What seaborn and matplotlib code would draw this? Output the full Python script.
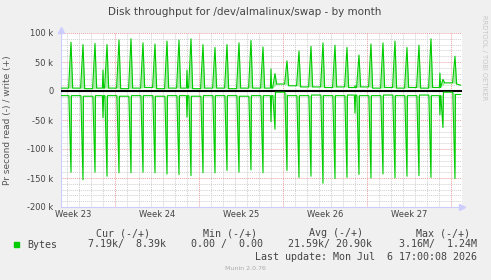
import numpy as np
import matplotlib
matplotlib.use("Agg")
import matplotlib.pyplot as plt
from matplotlib.patches import Rectangle
import seaborn as sns

# --- data (values in k, day 0 = Mon 1 Jun 2026) ---
# daily 08:00 spike peaks, write (+) and read (-)
write_peak = [84, 80, 82, 80, 88, 90, 83, 81, 86, 88, 90, 80, 75, 80, 83, 87, 76,
              30, 52, 69, 77, 83, 79, 75, 62, 81, 83, 86, 75, 79, 90, 20, 60]
read_peak = [-140, -153, -140, -147, -141, -141, -140, -141, -143, -144, -146, -141,
             -141, -137, -140, -136, -141, -66, -137, -149, -147, -159, -151, -149,
             -144, -150, -143, -150, -147, -146, -149, -63, -151]
# level the line settles at after each daily spike
write_base = [5, 4, 5, 5, 4, 5, 6, 4, 5, 5, 4, 5, 5, 4, 5, 5, 5,
              12, 9, 7, 7, 6, 7, 6, 7, 5, 6, 5, 6, 5, 6, 14, 12]
read_base = [-8, -9, -8, -8, -9, -8, -8, -9, -8, -8, -9, -8, -8, -8, -9, -8, -8,
             -2, -8, -8, -7, -8, -8, -7, -8, -8, -7, -8, -8, -7, -8, -2, -6]
# weekly job (Sunday night) secondary spikes
weekly_day = [6.0, 13.0, 20.0, 27.0, 34.08]
weekly_write = [36, 36, 38, 9, 31]
weekly_read = [-46, -45, -53, -38, -41]
# graph edges
start_day, end_day = 2.5, 35.92
write_start, write_end = 5, 10
read_start, read_end = -8, -6

week_labels = ["Week 23", "Week 24", "Week 25", "Week 26", "Week 27"]
week_start = [0, 7, 14, 21, 28, 35]
ytick_vals = [-200, -150, -100, -50, 0, 50, 100]
ytick_labels = ["-200 k", "-150 k", "-100 k", "-50 k", "0", "50 k", "100 k"]

spike_hour = 8 / 24


def build(peaks, bases, weekly_vals, start, end, rise, fall):
    events = [(3 + k + spike_hour, p, b, rise, fall) for k, (p, b) in enumerate(zip(peaks, bases))]
    events += [(d, v, None, 0.05, 0.05) for d, v in zip(weekly_day, weekly_vals)]
    events.sort(key=lambda e: e[0])
    t, y, floor = [start_day], [start], [start]
    cur = start
    for time, peak, base, r, f in events:
        nb = cur if base is None else base
        t += [time - r, time, time + f]
        y += [cur, peak, nb]
        floor += [cur, (cur + nb) / 2, nb]
        cur = nb
    t.append(end_day - 0.1)
    y.append(end)
    floor.append(end)
    return np.array(t), np.array(y) * 1000, np.array(floor) * 1000


tw, yw, fw = build(write_peak, write_base, weekly_write, write_start, write_end, 0.2, 0.14)
tr, yr, fr = build(read_peak, read_base, weekly_read, read_start, read_end, 0.18, 0.04)

W, H = 491, 280
sns.set_style("white")
plt.rcParams["font.family"] = ["DejaVu Sans"]
fig = plt.figure(figsize=(W / 100, H / 100), dpi=100, facecolor="#f0f0f0")
ax = fig.add_axes([61 / W, 1 - 207 / H, (462 - 61) / W, (207 - 33) / H])
ax.set_facecolor("white")

# grid
for v in range(-200, 101, 10):
    if v % 50:
        ax.axhline(v * 1000, color="#cfcfcf", lw=0.7, ls=(0, (1, 1)), zorder=1)
for d in range(3, 36):
    if d % 7:
        ax.axvline(d, color="#cfcfcf", lw=0.7, ls=(0, (1, 1)), zorder=1)
for v in ytick_vals:
    ax.axhline(v * 1000, color="#eba0a0", lw=0.7, ls=(0, (1, 1)), zorder=2)
for d in week_start[1:]:
    ax.axvline(d, color="#eba0a0", lw=0.7, ls=(0, (1, 1)), zorder=2)

ax.axhline(0, color="black", lw=1.5, zorder=3)

ax.fill_between(tw, yw, fw, color="#a8eca8", lw=0, zorder=3)
ax.fill_between(tr, yr, fr, color="#a8eca8", lw=0, zorder=3)
sns.lineplot(x=tw, y=yw, ax=ax, color="#00cc00", lw=0.8, sort=False, estimator=None, zorder=4)
sns.lineplot(x=tr, y=yr, ax=ax, color="#00cc00", lw=0.8, sort=False, estimator=None, zorder=4)

ax.set_xlim(start_day, end_day)
ax.set_ylim(-200000, 100000)
ax.set_xticks([w + 3.5 for w in week_start[:5]])
ax.set_xticklabels(week_labels)
ax.set_yticks([v * 1000 for v in ytick_vals])
ax.set_yticklabels(ytick_labels)
ax.tick_params(axis="x", length=0, pad=2.5, labelsize=6, labelcolor="#444444")
ax.tick_params(axis="y", length=0, pad=5.5, labelsize=6, labelcolor="#444444")
ax.set_xlabel("")
ax.set_ylabel("Pr second read (-) / write (+)", fontsize=6.5, color="#555555", labelpad=11)

for s in ["top", "right"]:
    ax.spines[s].set_visible(False)
for s in ["left", "bottom"]:
    ax.spines[s].set_color("#ccccff")
    ax.spines[s].set_linewidth(0.8)
ax.plot([0], [1.02], marker="^", color="#ccccff", ms=4, transform=ax.transAxes, clip_on=False)
ax.plot([1.0], [0], marker=">", color="#ccccff", ms=4, transform=ax.transAxes, clip_on=False)

fig.text(245 / W, 1 - 12 / H, "Disk throughput for /dev/almalinux/swap - by month",
         ha="center", va="center", fontsize=7.5, color="#444444")
fig.text(484 / W, 1 - 58 / H, "RRDTOOL / TOBI OETIKER", rotation=270, ha="center",
         va="center", fontsize=4.8, color="#c8c8c8")

mono = dict(family="DejaVu Sans Mono", fontsize=7.2, color="#444444", va="center")
headers = ["Cur (-/+)", "Min (-/+)", "Avg (-/+)", "Max (-/+)"]
head_x = [150, 257, 363, 470]
values = ["7.19k/  8.39k", "0.00 /  0.00", "21.59k/ 20.90k", "3.16M/  1.24M"]
val_x = [166, 263, 372, 477]
for txt, x in zip(headers, head_x):
    fig.text(x / W, 1 - 233 / H, txt, ha="right", **mono)
for txt, x in zip(values, val_x):
    fig.text(x / W, 1 - 244.5 / H, txt, ha="right", **mono)
fig.text(27 / W, 1 - 244.5 / H, "Bytes", ha="left", **mono)
fig.add_artist(Rectangle((14 / W, 1 - 247 / H), 5 / W, 5 / H, transform=fig.transFigure,
                         color="#00cc00"))
fig.text(477 / W, 1 - 257 / H, "Last update: Mon Jul  6 17:00:08 2026", ha="right", **mono)
fig.text(245 / W, 1 - 268 / H, "Munin 2.0.76", ha="center", va="center", fontsize=4.5,
         color="#aaaaaa")

fig.savefig("out.png", dpi=100, facecolor=fig.get_facecolor())
